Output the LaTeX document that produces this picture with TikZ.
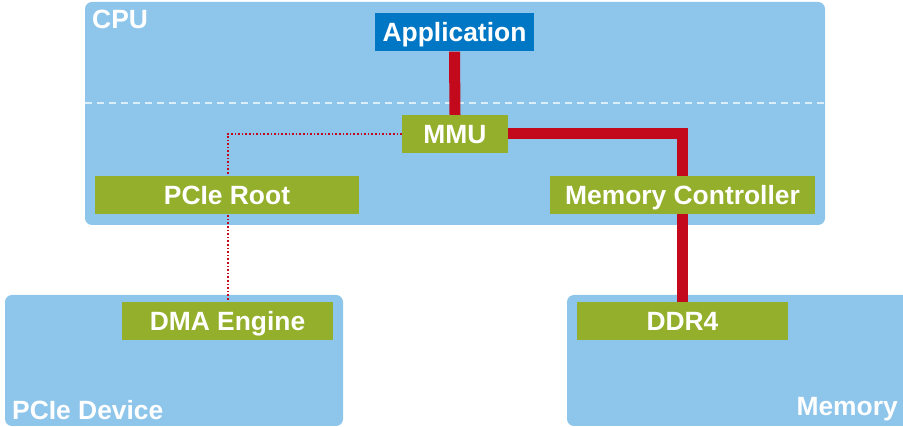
\documentclass[tikz,border=0pt]{standalone}
\usepackage{fontspec}
\setmainfont{Liberation Sans}
\definecolor{lblue}{HTML}{8EC5EB}
\definecolor{dblue}{HTML}{0077C4}
\definecolor{mygreen}{HTML}{93AF2B}
\definecolor{myred}{HTML}{C30A1C}
\definecolor{dashc}{HTML}{DCEEFA}
\pgfdeclarelayer{bg}
\pgfdeclarelayer{lines}
\pgfsetlayers{bg,lines,main}
\tikzset{
  boxfont/.style={font=\fontsize{26.4}{30}\selectfont\bfseries, text=white},
  region/.style={fill=lblue, rounded corners=7pt},
  greenbox/.style={boxfont, fill=mygreen, inner sep=0pt, minimum height=38pt, text height=18.9pt, text depth=0pt},
  bluebox/.style={greenbox, fill=dblue},
  bus/.style={myred, line width=11pt, line join=miter},
  dotbus/.style={myred, line width=2pt, dash pattern=on 1.6pt off 2pt},
  sep/.style={dashc, line width=1.6pt, dash pattern=on 7pt off 5pt},
  lbl/.style={boxfont, inner sep=0pt}
}
\begin{document}
\begin{tikzpicture}[x=1pt,y=-1pt]
\useasboundingbox (0,0) rectangle (903,427);
\clip (0,0) rectangle (903,427);
% nodes
\node[bluebox, minimum width=159pt] (app) at (454.5,32.5) {Application};
\node[greenbox, minimum width=106pt] (mmu) at (455,134) {MMU};
\node[greenbox, minimum width=264pt] (root) at (227,195) {PCIe Root};
\node[greenbox, minimum width=265pt] (mc) at (682.5,195) {Memory Controller};
\node[greenbox, minimum width=211pt] (dma) at (227.5,321) {DMA Engine};
\node[greenbox, minimum width=211pt] (ddr) at (682.5,321) {DDR4};
\node[lbl, anchor=base west] (cpul) at (92,29) {CPU};
\node[lbl, anchor=base west] (devl) at (12,420) {PCIe Device};
\node[lbl, anchor=base east] (meml) at (898,416) {Memory};
\coordinate (c1) at (682.5,134);
\coordinate (c2) at (227.5,134);
\begin{pgfonlayer}{bg}
\path[region] (85,2) rectangle (825,225);
\path[region] (5,295) rectangle (343,426);
\path[region] (567,295) rectangle (920,426);
\draw[sep] (85,103) -- (825,103);
\end{pgfonlayer}
\begin{pgfonlayer}{lines}
\draw[bus] (app.south) -- (mmu.north);
\draw[bus] (mmu.east) -- (c1) -- (mc.north);
\draw[bus] (mc.south) -- (ddr.north);
\draw[dotbus] (mmu.west) -- (c2) -- (dma.north);
\end{pgfonlayer}
\end{tikzpicture}
\end{document}
